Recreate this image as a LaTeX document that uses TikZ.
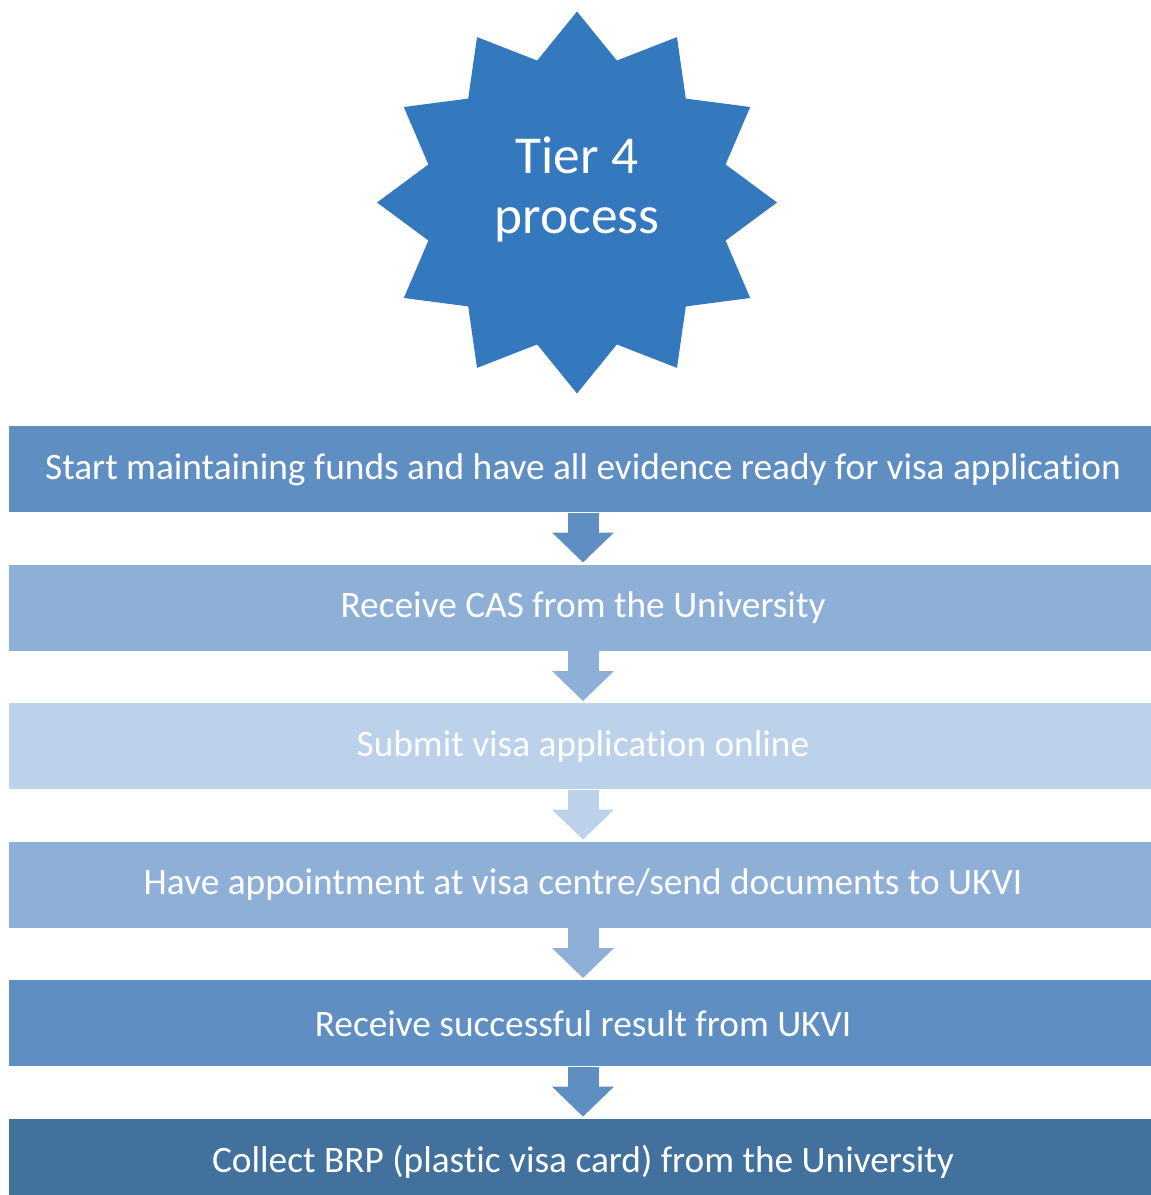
\documentclass[tikz,border=0pt]{standalone}
\usepackage{fontspec}
\setmainfont{Carlito}[Ligatures=NoCommon]
\usepackage{tikz}
\usetikzlibrary{shapes}
\usetikzlibrary{positioning}
\usetikzlibrary{arrows.meta}

\definecolor{starblue}{HTML}{3479BD}
\definecolor{stepmid}{HTML}{5F8FC2}
\definecolor{steplight}{HTML}{8EB0D7}
\definecolor{steppale}{HTML}{BCD1EA}
\definecolor{stepdark}{HTML}{41719C}

\tikzset{
  stepbox/.style={rectangle, minimum width=861pt, minimum height=64.5pt,
    inner sep=0pt, text=white, font=\fontsize{28}{34}\selectfont},
  flow/.style={line width=23.25pt, shorten >=1.5pt,
    -{Triangle[length=22.5pt,width=45pt]}}
}

\begin{document}
\begin{tikzpicture}[x=0.75pt, y=-0.75pt, node distance=39pt]
  \useasboundingbox (0,0) rectangle (1151,1195);
  \node[star, star points=12, star point ratio=1.3, minimum size=286.5pt,
        inner sep=0pt, fill=starblue, xscale=1.047, transform shape]
        (tier) at (577,202.5) {};
  \node[text=white, align=center, font=\fontsize{40}{45}\selectfont,
        yshift=10pt] (tiertext) at (tier.center) {Tier 4\\process};
  \node[stepbox, fill=stepmid, anchor=north] (funds) at (583,426)
    {Start maintaining funds and have all evidence ready for visa application};
  \node[stepbox, fill=steplight, below=of funds] (cas) {Receive CAS from the University};
  \node[stepbox, fill=steppale, below=of cas] (submit) {Submit visa application online};
  \node[stepbox, fill=steplight, below=of submit] (appt) {Have appointment at visa centre/send documents to UKVI};
  \node[stepbox, fill=stepmid, below=of appt] (result) {Receive successful result from UKVI};
  \node[stepbox, fill=stepdark, below=of result] (brp) {Collect BRP (plastic visa card) from the University};
  % arrows between the steps
  \draw[flow, stepmid] (funds) -- (cas);
  \draw[flow, steplight] (cas) -- (submit);
  \draw[flow, steppale] (submit) -- (appt);
  \draw[flow, steplight] (appt) -- (result);
  \draw[flow, stepmid] (result) -- (brp);
\end{tikzpicture}
\end{document}
